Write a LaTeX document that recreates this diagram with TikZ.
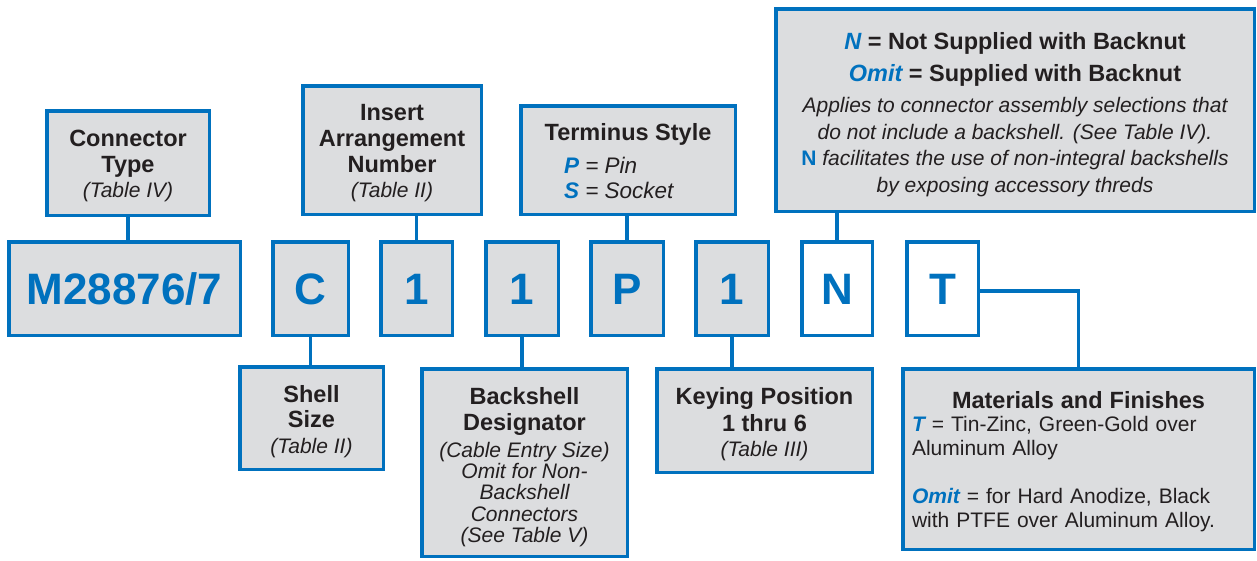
\documentclass[tikz,border=0pt]{standalone}
\usepackage{fontspec}
\setmainfont{Liberation Sans}
\definecolor{bl}{RGB}{0,113,190}
\definecolor{gr}{RGB}{220,221,223}
\definecolor{tx}{RGB}{35,31,32}
\newcommand\ita[1]{{\mdseries\itshape\fontsize{21}{25}\selectfont #1}}
\newcommand\bi[1]{{\color{bl}\bfseries\itshape #1}}
\newcommand\tsl[1]{\makebox[128pt][l]{\mdseries\itshape\fontsize{22.5}{25}\selectfont #1}}
\tikzset{
  descbox/.style={draw=bl, line width=3.5pt, fill=gr, inner sep=0pt},
  desctext/.style={inner sep=0pt, align=center, text=tx, yshift=-3.5pt},
  codebox/.style={draw=bl, line width=3.5pt, fill=gr, inner sep=0pt, minimum height=93.5pt,
    text height=31.5pt, text depth=0pt, text=bl, font=\fontsize{44}{50}\selectfont\bfseries},
  conn/.style={draw=bl, line width=3.5pt},
}
\begin{document}
\begin{tikzpicture}[x=1pt,y=-1pt]
\useasboundingbox (0,0) rectangle (1257,560);
% code row
\node[codebox, minimum width=231.5pt] (m) at (124.5,288.5) {M28876/7};
\node[codebox, minimum width=75.5pt] (c) at (310.5,288.5) {C};
\node[codebox, minimum width=71.5pt] (a1) at (416.5,288.5) {1};
\node[codebox, minimum width=72.5pt] (b1) at (522,288.5) {1};
\node[codebox, minimum width=72.5pt] (p) at (627,288.5) {P};
\node[codebox, minimum width=72.5pt] (k1) at (732,288.5) {1};
\node[codebox, fill=white, minimum width=70.5pt] (n) at (837,288.5) {N};
\node[codebox, fill=white, minimum width=71.5pt] (t) at (942.5,288.5) {T};
% description boxes
\node[descbox, minimum width=162.5pt, minimum height=104.5pt] (ct) at (128,163) {};
\node[descbox, minimum width=178.5pt, minimum height=128.5pt] (ia) at (392,150) {};
\node[descbox, minimum width=214.5pt, minimum height=108.5pt] (ts) at (628,160) {};
\node[descbox, minimum width=478.5pt, minimum height=202.5pt] (nd) at (1015,110) {};
\node[descbox, minimum width=143.5pt, minimum height=102.5pt] (ss) at (311.5,418) {};
\node[descbox, minimum width=205.5pt, minimum height=187.5pt] (bd) at (524.5,462.5) {};
\node[descbox, minimum width=215.5pt, minimum height=103.5pt] (kp) at (764.5,420.5) {};
\node[descbox, minimum width=351.5pt, minimum height=180.5pt] (mf) at (1078.5,459) {};
% description texts
\node[desctext, yshift=1pt, font=\fontsize{23.5}{26}\selectfont\bfseries] (ctx) at (ct.center)
  {Connector\\Type\\[-1pt]\ita{(Table IV)}};
\node[desctext, font=\fontsize{23.5}{25.7}\selectfont\bfseries] (iax) at (ia.center)
  {Insert\\Arrangement\\Number\\\ita{(Table II)}};
\node[desctext, yshift=2pt, font=\fontsize{23.5}{25}\selectfont\bfseries] (tsx) at (ts.center)
  {Terminus Style\\[8pt]\tsl{\bi{P} = Pin}\\\tsl{\bi{S} = Socket}};
\node[desctext, yshift=-1pt, font=\fontsize{23.5}{26.5}\selectfont\bfseries] (ndx) at (nd.center)
  {\bi{N} = Not Supplied with Backnut\\[5.5pt]\bi{Omit} = Supplied with Backnut\\[5.2pt]%
   \ita{Applies to connector assembly selections that}\\%
   \ita{do not include a backshell. (See Table IV).}\\%
   \ita{{\color{bl}\bfseries\upshape N} facilitates the use of non-integral backshells}\\%
   \ita{by exposing accessory threds}};
\node[desctext, font=\fontsize{23.5}{25.5}\selectfont\bfseries] (ssx) at (ss.center)
  {Shell\\Size\\\ita{(Table II)}};
\node[desctext, yshift=-1pt, font=\fontsize{23.5}{21.2}\selectfont\bfseries] (bdx) at (bd.center)
  {Backshell\\[4.8pt]Designator\\[5.8pt]\ita{(Cable Entry Size)}\\\ita{Omit for Non-}\\\ita{Backshell}\\\ita{Connectors}\\\ita{(See Table V)}};
\node[desctext, font=\fontsize{23.5}{26.7}\selectfont\bfseries] (kpx) at (kp.center)
  {Keying Position\\1 thru 6\\[-1.7pt]\ita{(Table III)}};
\node[desctext, yshift=1pt, align=left, text width=333pt, font=\fontsize{21}{23.4}\selectfont] (mfx) at (mf.center)
  {\makebox[333pt][c]{\bfseries\fontsize{23.5}{23.4}\selectfont Materials and Finishes}\\
   \bi{T} = Tin-Zinc, Green-Gold over\\Aluminum Alloy\\[24.9pt]%
   \bi{Omit} = for Hard Anodize, Black\\with PTFE over Aluminum Alloy.};
% connectors
\draw[conn] (ct.south) -- (ct.south |- m.north);
\draw[conn] (a1.north) -- (a1.north |- ia.south);
\draw[conn] (p.north) -- (p.north |- ts.south);
\draw[conn] (n.north) -- (n.north |- nd.south);
\draw[conn] (c.south) -- (c.south |- ss.north);
\draw[conn] (b1.south) -- (b1.south |- bd.north);
\draw[conn] (k1.south) -- (k1.south |- kp.north);
\draw[conn] ([yshift=-2.5pt]t.east) -| (mf.north);
\end{tikzpicture}
\end{document}
